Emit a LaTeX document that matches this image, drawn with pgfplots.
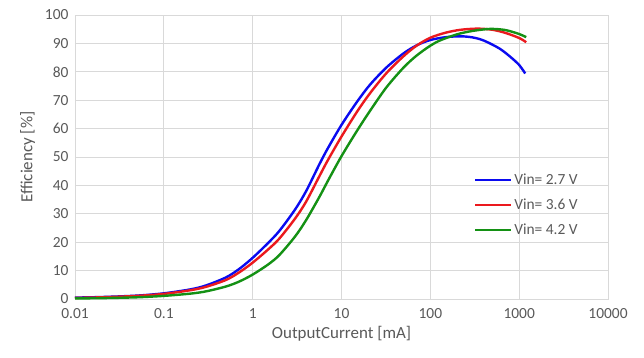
\documentclass[border=0pt]{standalone}
\usepackage{pgfplots}
\pgfplotsset{compat=1.18}
\usepackage{fontspec}
\setmainfont{Carlito}
\definecolor{txtgray}{RGB}{89,89,89}
\definecolor{gridgray}{RGB}{217,217,217}
\definecolor{cblue}{RGB}{10,10,240}
\definecolor{cred}{RGB}{235,25,30}
\definecolor{cgreen}{RGB}{20,145,20}
\begin{document}
\begin{tikzpicture}
\useasboundingbox (-75bp,-59bp) rectangle (569bp,299bp);
\begin{axis}[
  at={(0,0)}, anchor=south west,
  scale only axis, width=533bp, height=284bp,
  xmode=log, xmin=0.01, xmax=10000, ymin=0, ymax=100,
  xtick={0.01,0.1,1,10,100,1000,10000},
  xticklabels={0.01,0.1,1,10,100,1000,10000},
  ytick={0,10,...,100},
  minor xtick={}, minor tick length=0pt, major tick length=0pt,
  xmajorgrids, ymajorgrids,
  grid style={gridgray, line width=0.8bp},
  axis line style={gridgray, line width=0.8bp},
  tick label style={font=\fontsize{15.5}{18}\selectfont, text=txtgray},
  /pgf/number format/assume math mode=true,
  xticklabel style={yshift=-6bp},
  yticklabel style={xshift=-3bp},
  xlabel={OutputCurrent [mA]}, ylabel={Efficiency [\%]},
  label style={font=\fontsize{17}{20}\selectfont, text=txtgray},
  xlabel style={yshift=-1bp},
  ylabel style={yshift=3bp},
  legend style={at={(0.748,0.448)}, anchor=north west, draw=none, fill=none,
    font=\fontsize{15.5}{18}\selectfont, text=txtgray, row sep=9bp,
    inner sep=0pt, nodes={inner xsep=2bp}},
  legend cell align=left,
  legend image code/.code={\draw[#1, line width=2.4bp] (0bp,0bp) -- (36bp,0bp);},
  every axis plot/.append style={line width=2.4bp, smooth, no markers},
]
\addplot[cblue] coordinates {
(0.01,0.5)(0.02,0.7)(0.05,1.2)(0.1,2.0)(0.2,3.4)(0.3,4.8)(0.5,7.6)(0.7,10.5)
(1,14.5)(1.5,19.8)(2,24)(3,31.5)(4,38)(5.65,47.5)(7,53)(10,61.3)(15,69.5)
(21,75.5)(32,81.5)(50,86.5)(70,89.3)(100,91.2)(150,92.2)(220,92.5)(300,92.1)
(400,91.0)(600,88.2)(800,85.2)(1000,82.4)(1170,79.4)};
\addlegendentry{Vin= 2.7 V}
\addplot[cred] coordinates {
(0.01,0.4)(0.02,0.6)(0.05,1.1)(0.1,1.8)(0.2,3.1)(0.3,4.3)(0.5,6.7)(0.7,9.3)
(1,12.8)(1.5,17.5)(2,21.3)(3,28.3)(4,34.3)(5.65,43.3)(7,48.8)(10,57.2)(15,66)
(21,72.5)(32,79.5)(50,85.5)(70,89.2)(100,92.0)(150,93.8)(220,94.8)(340,95.2)
(500,94.8)(700,93.7)(1000,91.9)(1200,90.4)};
\addlegendentry{Vin= 3.6 V}
\addplot[cgreen] coordinates {
(0.01,0.2)(0.02,0.3)(0.05,0.6)(0.1,1.1)(0.2,1.9)(0.3,2.7)(0.5,4.4)(0.7,6.1)
(1,8.6)(1.5,12.2)(2,15.5)(3,22)(4,27.8)(5.65,36)(7,41.5)(10,50.3)(15,59.3)
(21,66.3)(32,74.5)(50,81.5)(70,85.7)(100,89.2)(130,91.1)(200,93.2)(300,94.4)
(470,95.1)(700,94.7)(1000,93.3)(1200,92.2)};
\addlegendentry{Vin= 4.2 V}
\end{axis}
\end{tikzpicture}
\end{document}
